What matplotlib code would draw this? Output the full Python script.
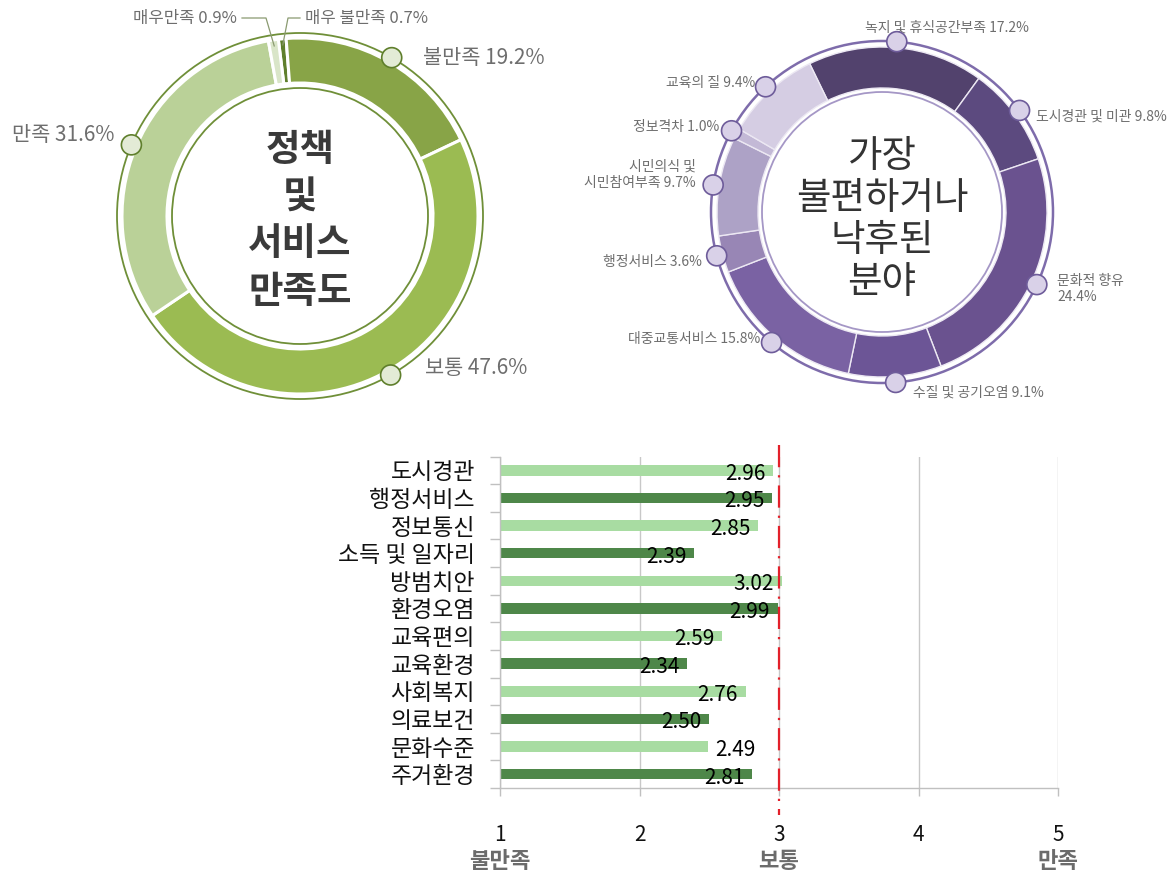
import matplotlib
matplotlib.use('Agg')
import matplotlib.pyplot as plt
from matplotlib.patches import Circle
import matplotlib.transforms as mtransforms
import numpy as np

plt.rcParams['font.family'] = ['Noto Sans CJK KR', 'DejaVu Sans']

# ---------------- data ----------------
sat_labels = ['매우 불만족', '불만족', '보통', '만족', '매우만족']
sat_values = [0.7, 19.2, 47.6, 31.6, 0.9]
sat_title = ['정책', '및', '서비스', '만족도']

area_labels = ['녹지 및 휴식공간부족', '도시경관 및 미관', '문화적 향유', '수질 및 공기오염',
               '대중교통서비스', '행정서비스', '시민의식 및\n시민참여부족', '정보격차', '교육의 질']
area_values = [17.2, 9.8, 24.4, 9.1, 15.8, 3.6, 9.7, 1.0, 9.4]
area_title = ['가장', '불편하거나', '낙후된', '분야']

categories = ['도시경관', '행정서비스', '정보통신', '소득 및 일자리', '방범치안', '환경오염',
              '교육편의', '교육환경', '사회복지', '의료보건', '문화수준', '주거환경']
scores = [2.96, 2.95, 2.85, 2.39, 3.02, 2.99, 2.59, 2.34, 2.76, 2.50, 2.49, 2.81]
scale_ticks = [1, 2, 3, 4, 5]
scale_names = ['불만족', '보통', '만족']
scale_name_pos = [1, 3, 5]
neutral = 3

# ---------------- figure ----------------
W, H = 1176, 874
fig = plt.figure(figsize=(W / 100, H / 100), dpi=100)


def donut_axes(cx, cy, half):
    ax = fig.add_axes([(cx - half) / W, (H - cy - half) / H, 2 * half / W, 2 * half / H])
    return ax


def finish(ax, half):
    ax.set_xlim(-half, half)
    ax.set_ylim(-half, half)
    ax.set_aspect('equal')
    ax.axis('off')


def mid_point(w, r):
    a = np.deg2rad((w.theta1 + w.theta2) / 2)
    return r * np.cos(a), r * np.sin(a)


# ---------------- left donut ----------------
cxL, cyL, halfL = 300, 216, 215
axL = donut_axes(cxL, cyL, halfL)
sat_colors = ['#5f7f2c', '#88a447', '#9bbb52', '#bad198', '#d9e5c8']
wedgesL, _ = axL.pie(sat_values, radius=178, startangle=97, counterclock=False,
                     colors=sat_colors,
                     wedgeprops=dict(width=45, edgecolor='white', linewidth=2.2))
green_line = '#6f8f38'
axL.add_patch(Circle((0, 0), 183, fill=False, ec=green_line, lw=1.3, zorder=3))
axL.add_patch(Circle((0, 0), 128, fill=False, ec=green_line, lw=1.3, zorder=3))
finish(axL, halfL)

label_grey = '#6e6e6e'
# label layout (absolute pixel positions), style
L_layout = {
    0: (305, 18, 'left', 12),
    1: (423, 58, 'left', 15),
    2: (425, 368, 'left', 15),
    3: (115, 135, 'right', 15),
    4: (237, 18, 'right', 12),
}
for i, (lab, val) in enumerate(zip(sat_labels, sat_values)):
    x, y, ha, fs = L_layout[i]
    axL.text(x - cxL, cyL - y, f'{lab} {val:.1f}%', ha=ha, va='center',
             fontsize=fs, color=label_grey)
    w = wedgesL[i]
    if fs > 13:
        mx, my = mid_point(w, 183)
        axL.add_patch(Circle((mx, my), 10, fc='#e3ebd6', ec='#5f7f2c', lw=1.2, zorder=6))
    else:
        px, py = mid_point(w, 172)
        if ha == 'left':
            hx = x - 5 - cxL
            kx = hx - 12
        else:
            hx = x + 5 - cxL
            kx = hx + 24
        axL.plot([hx, kx, px], [cyL - y, cyL - y, py], color='#8a9a70', lw=0.9,
                 zorder=6, clip_on=False)

title_y_L = [150, 197, 244, 291]
for t, ty in zip(sat_title, title_y_L):
    axL.text(0, cyL - ty, t, ha='center', va='center', fontsize=27,
             fontweight='bold', color='#3a3a3a')

# ---------------- right donut ----------------
cxR, cyR, halfR = 882, 212, 200
axR = donut_axes(cxR, cyR, halfR)
area_colors = ['#52426d', '#5c4a7f', '#6a528f', '#6c5596', '#7a62a3',
               '#9886b5', '#ada2c6', '#c3b9d6', '#d5cde3']
wedgesR, _ = axR.pie(area_values, radius=165, startangle=116, counterclock=False,
                     colors=area_colors,
                     wedgeprops=dict(width=41, edgecolor='#ece8f3', linewidth=1.0))
axR.add_patch(Circle((0, 0), 171, fill=False, ec='#7e6cab', lw=1.8, zorder=3))
axR.add_patch(Circle((0, 0), 120, fill=False, ec='#a597c6', lw=1.3, zorder=3))
finish(axR, halfR)

R_layout = [
    (865, 28, 'left'),
    (1036, 117, 'left'),
    (1057, 289, 'left'),
    (913, 393, 'left'),
    (760, 339, 'right'),
    (702, 262, 'right'),
    (696, 175, 'right'),
    (719, 127, 'right'),
    (755, 83, 'right'),
]
for i, (lab, val) in enumerate(zip(area_labels, area_values)):
    x, y, ha = R_layout[i]
    txt = f'{lab} {val:.1f}%' if i != 2 else f'{lab}\n{val:.1f}%'
    axR.text(x - cxR, cyR - y, txt, ha=ha, va='center', fontsize=10,
             color=label_grey, multialignment=ha, linespacing=1.2)
    mx, my = mid_point(wedgesR[i], 171)
    axR.add_patch(Circle((mx, my), 10, fc='#d9d1e8', ec='#6e5c9a', lw=1.2, zorder=6))

title_y_R = [157, 199, 241, 283]
for t, ty in zip(area_title, title_y_R):
    axR.text(0, cyR - ty, t, ha='center', va='center', fontsize=27,
             color='#333333')

# ---------------- bar chart ----------------
x0_px, x1_px, top_px, bot_px = 500, 1058, 456.5, 788
axB = fig.add_axes([x0_px / W, (H - bot_px) / H, (x1_px - x0_px) / W, (bot_px - top_px) / H])
yy = np.arange(len(categories))
bar_colors = ['#a8dca2' if i % 2 == 0 else '#4e8749' for i in yy]
base = scale_ticks[0]
axB.barh(yy, np.array(scores) - base, left=base, height=0.38, color=bar_colors, zorder=2)
axB.set_xlim(scale_ticks[0], scale_ticks[-1])
axB.set_ylim(len(categories) - 0.5, -0.5)

axB.set_yticks(yy)
axB.set_yticklabels(categories, fontsize=16.5, color='#111111')
axB.set_yticks(np.arange(-0.5, len(categories)), minor=True)
axB.tick_params(axis='y', which='major', length=0, pad=18)
axB.tick_params(axis='y', which='minor', length=7, color='#c0c0c0', width=1)

axB.set_xticks(scale_ticks)
axB.set_xticklabels([str(t) for t in scale_ticks], fontsize=15, color='#111111')
axB.tick_params(axis='x', length=6, color='#c0c0c0', width=1, pad=20)
axB.grid(axis='x', color='#c8c8c8', lw=1, zorder=0)
axB.set_axisbelow(True)
for s in ['top', 'right']:
    axB.spines[s].set_visible(False)
for s in ['left', 'bottom']:
    axB.spines[s].set_color('#c0c0c0')
    axB.spines[s].set_linewidth(1)

outside_idx = {10}
for i, v in enumerate(scores):
    if i in outside_idx:
        axB.text(v + 0.05, i + 0.12, f'{v:.2f}', ha='left', va='center', fontsize=15,
                 color='black', zorder=5)
    else:
        axB.text(v - 0.055, i + 0.12, f'{v:.2f}', ha='right', va='center', fontsize=15,
                 color='black', zorder=5)

blend = mtransforms.blended_transform_factory(axB.transData, axB.transAxes)
span = bot_px - top_px
axB.plot([neutral, neutral], [1 + (top_px - 445) / span, -(815 - bot_px) / span],
         transform=blend, color='#e3202a', lw=1.6, dashes=(10, 3.6, 1, 3.6),
         clip_on=False, zorder=6)

for name, pos in zip(scale_names, scale_name_pos):
    axB.text(pos, -(862 - bot_px) / span, name, transform=blend, ha='center', va='center',
             fontsize=16, fontweight='bold', color='#6b6b6b')

fig.savefig('out.png', dpi=100)
